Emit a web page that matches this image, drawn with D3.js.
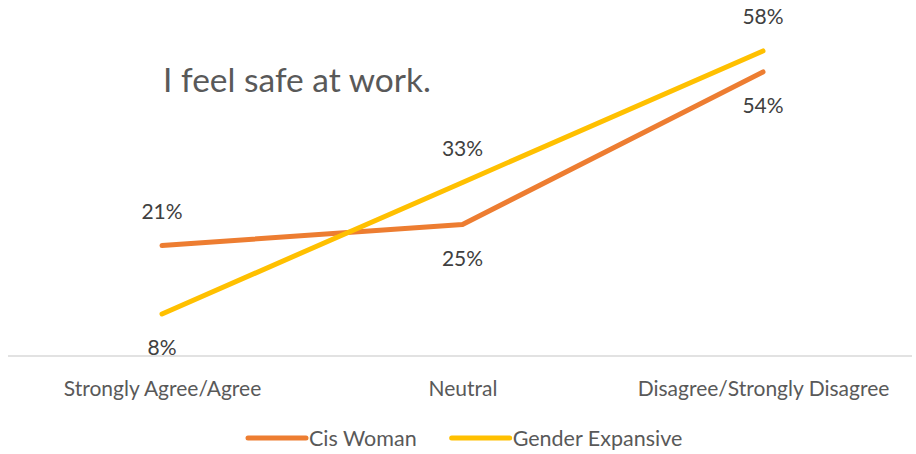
<!DOCTYPE html>
<html>
<head>
<meta charset="utf-8">
<script src="https://cdn.jsdelivr.net/npm/d3@7"></script>
<style>
  html, body { margin: 0; padding: 0; background: #fff; }
  svg { display: block; font-family: Lato, "Open Sans", sans-serif; }
</style>
</head>
<body>
<svg id="chart" width="916" height="454"></svg>
<script>
// Survey responses to "I feel safe at work."
const categories = ["Strongly Agree/Agree", "Neutral", "Disagree/Strongly Disagree"];
const seriesNames = ["Cis Woman", "Gender Expansive"];
const cisWoman = [0.21, 0.25, 0.54];
const genderExpansive = [0.08, 0.33, 0.58];
const seriesColors = ["#ED7D31", "#FFC000"];

const series = [
  { name: seriesNames[0], values: cisWoman, color: seriesColors[0] },
  { name: seriesNames[1], values: genderExpansive, color: seriesColors[1] }
];

const svg = d3.select("#chart");
const labelSize = "21px";

const x = d3.scalePoint().domain(categories).range([162, 763]);
const y = d3.scaleLinear().domain([0, 0.6]).range([356, 40.4]);

// Baseline axis
const xAxis = d3.axisBottom(x).tickSize(0).tickPadding(25);
const gx = svg.append("g").attr("transform", `translate(0,${y(0)})`).call(xAxis);
gx.select(".domain").remove();
gx.append("line")
  .attr("x1", 8).attr("x2", 912)
  .attr("stroke", "#D9D9D9").attr("stroke-width", 1.5);
gx.selectAll(".tick text")
  .attr("fill", "#595959")
  .style("font-size", labelSize)
  .style("font-family", "Lato, 'Open Sans', sans-serif");

// Title
svg.append("text")
  .attr("x", 163).attr("y", 92)
  .attr("fill", "#595959")
  .style("font-size", "33.5px")
  .text("I feel safe at work.");

// Lines
const line = d3.line()
  .x((d, i) => x(categories[i]))
  .y(d => y(d));

svg.selectAll(".series")
  .data(series)
  .join("path")
  .attr("class", "series")
  .attr("d", d => line(d.values))
  .attr("fill", "none")
  .attr("stroke", d => d.color)
  .attr("stroke-width", 5)
  .attr("stroke-linecap", "round")
  .attr("stroke-linejoin", "round");

// Data labels: above when the series is the higher one at that category
series.forEach((s, si) => {
  const other = series[1 - si];
  s.values.forEach((v, i) => {
    const above = v > other.values[i];
    svg.append("text")
      .attr("x", x(categories[i]))
      .attr("y", y(v) + (above ? -34 : 34))
      .attr("dy", "0.35em")
      .attr("text-anchor", "middle")
      .attr("fill", "#404040")
      .style("font-size", labelSize)
      .text(d3.format(".0%")(v));
  });
});

// Legend
const legend = svg.append("g").attr("transform", "translate(248,438)");
let lx = 0;
series.forEach((s, i) => {
  const g = legend.append("g").attr("transform", `translate(${lx},0)`);
  g.append("line")
    .attr("x1", 0).attr("x2", 58)
    .attr("stroke", s.color).attr("stroke-width", 5)
    .attr("stroke-linecap", "round");
  const t = g.append("text")
    .attr("x", 61).attr("dy", "0.35em")
    .attr("fill", "#595959")
    .style("font-size", "21.5px")
    .text(s.name);
  lx += 61 + t.node().getComputedTextLength() + 35;
});
</script>
</body>
</html>
